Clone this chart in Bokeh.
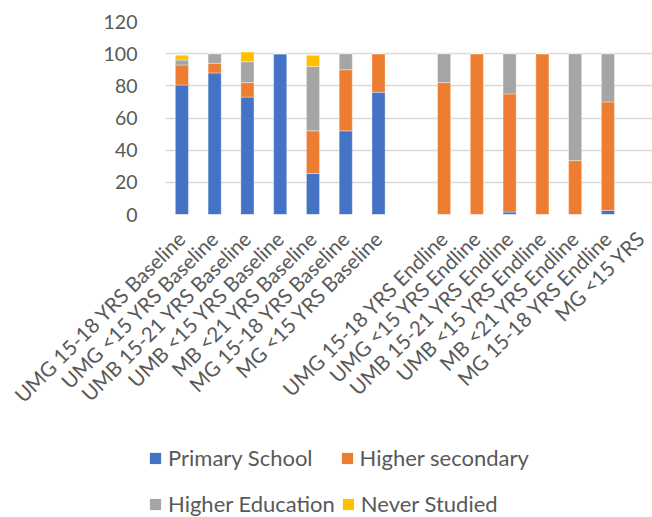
import math

from bokeh.plotting import figure
from bokeh.layouts import column
from bokeh.models import (ColumnDataSource, Range1d, FixedTicker, Legend,
                          LegendItem)
from bokeh.embed import file_html
from bokeh.resources import INLINE

# Education level share (%) by group, baseline vs endline
categories = [
    "UMG 15-18 YRS Baseline", "UMG <15 YRS Baseline", "UMB 15-21 YRS Baseline",
    "UMB <15 YRS Baseline", "MB <21 YRS Baseline", "MG 15-18 YRS Baseline",
    "MG <15 YRS Baseline", "",
    "UMG 15-18 YRS Endline", "UMG <15 YRS Endline", "UMB 15-21 YRS Endline",
    "UMB <15 YRS Endline", "MB <21 YRS Endline", "MG 15-18 YRS Endline",
    "MG <15 YRS",
]
primary_school = [80.5, 88, 73, 100, 25.5, 52, 76, 0, 0, 0, 1.5, 0, 0, 2.5, 0]
higher_secondary = [12.5, 6, 9, 0, 26.5, 38, 24, 0, 82, 100, 73.5, 100, 33.5, 67.5, 0]
higher_education = [3, 6, 13, 0, 40, 10, 0, 0, 18, 0, 25, 0, 66.5, 30, 0]
never_studied = [3, 0, 6, 0, 7, 0, 0, 0, 0, 0, 0, 0, 0, 0, 0]

series_names = ["Primary School", "Higher secondary", "Higher Education", "Never Studied"]
series_keys = ["primary", "hsec", "hedu", "never"]
colors = ["#4472C4", "#ED7D31", "#A5A5A5", "#FFC000"]
y_ticks = [0, 20, 40, 60, 80, 100, 120]

FONT = "Lato"
TEXT = "#595959"

positions = list(range(len(categories)))
source = ColumnDataSource(dict(
    x=positions,
    primary=primary_school,
    hsec=higher_secondary,
    hedu=higher_education,
    never=never_studied,
))

# ---- main chart -------------------------------------------------------
p = figure(
    width=652, height=425,
    x_range=Range1d(-0.5, 14.36), y_range=Range1d(0, 120),
    output_backend="svg", toolbar_location=None,
    min_border_left=165, min_border_right=0,
    min_border_top=21, min_border_bottom=211,
    frame_align=False,
)
p.outline_line_color = None
p.background_fill_color = "white"
p.border_fill_color = "white"

p.vbar_stack(
    series_keys, x="x", width=0.4, color=colors, source=source,
    line_color="white", line_width=0.6, line_alpha=0.6,
)

p.xgrid.grid_line_color = None
p.ygrid.grid_line_color = "#d9d9d9"
p.ygrid.grid_line_width = 1.5
p.ygrid.ticker = FixedTicker(ticks=y_ticks)

ya = p.yaxis[0]
ya.ticker = FixedTicker(ticks=y_ticks)
ya.axis_line_color = None
ya.major_tick_line_color = None
ya.minor_tick_line_color = None
ya.major_label_text_font = FONT
ya.major_label_text_font_size = "19.5px"
ya.major_label_text_color = TEXT
ya.major_label_standoff = 22

xa = p.xaxis[0]
xa.ticker = FixedTicker(ticks=positions)
xa.major_label_overrides = {i: c for i, c in zip(positions, categories)}
xa.major_label_orientation = math.pi / 4
xa.axis_line_color = None
xa.major_tick_line_color = None
xa.minor_tick_line_color = None
xa.major_label_text_font = FONT
xa.major_label_text_font_size = "20.5px"
xa.major_label_text_color = TEXT
xa.major_label_standoff = 14

# ---- legend strip under the chart (two rows) --------------------------
leg = figure(
    width=652, height=92,
    x_range=Range1d(0, 652), y_range=Range1d(0, 92),
    x_axis_type=None, y_axis_type=None,
    output_backend="svg", toolbar_location=None,
    min_border=0, frame_align=False,
)
leg.outline_line_color = None
leg.xgrid.visible = False
leg.ygrid.visible = False

# hidden copies of the stacked bars, used only for the legend swatches
swatches = leg.vbar_stack(
    series_keys, x="x", width=0.4, color=colors, source=source,
    line_color=None, visible=False,
)

legend_style = dict(
    orientation="horizontal",
    label_text_font=FONT, label_text_font_size="22px", label_text_color=TEXT,
    label_standoff=6, label_height=27,
    glyph_width=14, glyph_height=14,
    padding=0, margin=0,
    background_fill_alpha=0, border_line_color=None,
)
row1 = Legend(
    items=[LegendItem(label=series_names[i], renderers=[swatches[i]]) for i in (0, 1)],
    location=(148, 46), spacing=27, **legend_style,
)
row2 = Legend(
    items=[LegendItem(label=series_names[i], renderers=[swatches[i]]) for i in (2, 3)],
    location=(148, 0), spacing=6, **legend_style,
)
leg.add_layout(row1, "center")
leg.add_layout(row2, "center")

layout = column(p, leg, spacing=0)
open("out.html", "w").write(file_html(layout, INLINE))
